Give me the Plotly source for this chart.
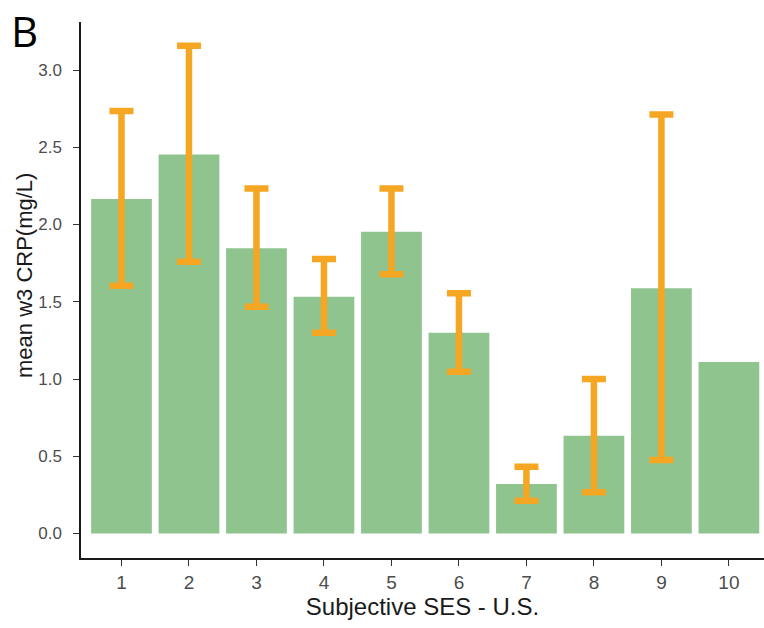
import plotly.graph_objects as go

# Subjective SES rungs and mean wave-3 CRP with confidence bounds
ses_levels = [1, 2, 3, 4, 5, 6, 7, 8, 9, 10]
tick_labels = ["1", "2", "3", "4", "5", "6", "7", "8", "9", "10"]
mean_crp = [2.165, 2.454, 1.846, 1.533, 1.953, 1.300, 0.320, 0.633, 1.587, 1.110]
upper_ci = [2.735, 3.157, 2.234, 1.777, 2.234, 1.555, 0.432, 1.000, 2.713, None]
lower_ci = [1.604, 1.759, 1.468, 1.300, 1.678, 1.047, 0.212, 0.267, 0.476, None]
y_ticks = [0.0, 0.5, 1.0, 1.5, 2.0, 2.5, 3.0]
y_tick_labels = ["0.0", "0.5", "1.0", "1.5", "2.0", "2.5", "3.0"]

has_err = [u is not None for u in upper_ci]
err_x = [x for x, h in zip(ses_levels, has_err) if h]
err_y = [m for m, h in zip(mean_crp, has_err) if h]
err_plus = [u - m for u, m, h in zip(upper_ci, mean_crp, has_err) if h]
err_minus = [m - l for l, m, h in zip(lower_ci, mean_crp, has_err) if h]

bar_color = "#8fc48f"
err_color = "#f5a623"

# plot-area geometry in pixels
W, H = 764, 628
ML, MR, MT, MB = 81, 0, 22, 70
PW, PH = W - ML - MR, H - MT - MB

fig = go.Figure()

fig.add_trace(go.Bar(
    x=ses_levels,
    y=mean_crp,
    width=0.9,
    marker=dict(color=bar_color, line=dict(width=0)),
    showlegend=False,
    hoverinfo="skip",
))

# error bars on an invisible scatter so rung 10 carries none
fig.add_trace(go.Scatter(
    x=err_x,
    y=err_y,
    mode="markers",
    marker=dict(size=1, color="rgba(0,0,0,0)"),
    error_y=dict(
        type="data",
        symmetric=False,
        array=err_plus,
        arrayminus=err_minus,
        color=err_color,
        thickness=6.5,
        width=12,
    ),
    showlegend=False,
    hoverinfo="skip",
))

fig.update_layout(
    width=W,
    height=H,
    margin=dict(l=ML, r=MR, t=MT, b=MB),
    paper_bgcolor="white",
    plot_bgcolor="white",
    font=dict(family="Liberation Sans, Arial, sans-serif", color="#1a1a1a"),
    bargap=0.1,
)

fig.update_xaxes(
    range=[0.4, 10.52],
    tickmode="array",
    tickvals=ses_levels,
    ticktext=tick_labels,
    showgrid=False,
    zeroline=False,
    showline=True,
    linecolor="#1a1a1a",
    linewidth=1.5,
    ticks="outside",
    ticklen=6,
    tickwidth=1.2,
    tickcolor="#333333",
    tickfont=dict(size=19, color="#4d4d4d"),
    title=dict(text="Subjective SES - U.S.", font=dict(size=24, color="#1a1a1a"), standoff=6),
)

fig.update_yaxes(
    range=[-0.1586, 3.311],
    tickmode="array",
    tickvals=y_ticks,
    ticktext=y_tick_labels,
    showgrid=False,
    zeroline=False,
    showline=True,
    linecolor="#1a1a1a",
    linewidth=1.5,
    ticks="outside",
    ticklen=6,
    tickwidth=1.2,
    tickcolor="#333333",
    tickfont=dict(size=17, color="#4d4d4d"),
    ticklabelstandoff=8,
)

# y-axis title
fig.add_annotation(
    text="mean w3 CRP(mg/L)",
    textangle=-90,
    xref="paper", yref="paper",
    x=(24 - ML) / PW, y=(H - MB - 276) / PH,
    xanchor="center", yanchor="middle",
    showarrow=False,
    font=dict(size=22, color="#1a1a1a"),
)

# panel letter
fig.add_annotation(
    text="B",
    xref="paper", yref="paper",
    x=(9 - ML) / PW, y=(H - MB - 0) / PH,
    xanchor="left", yanchor="top",
    showarrow=False,
    font=dict(family="Open Sans, DejaVu Sans, sans-serif", size=42, color="#000000"),
)

fig.write_html("out.html")
